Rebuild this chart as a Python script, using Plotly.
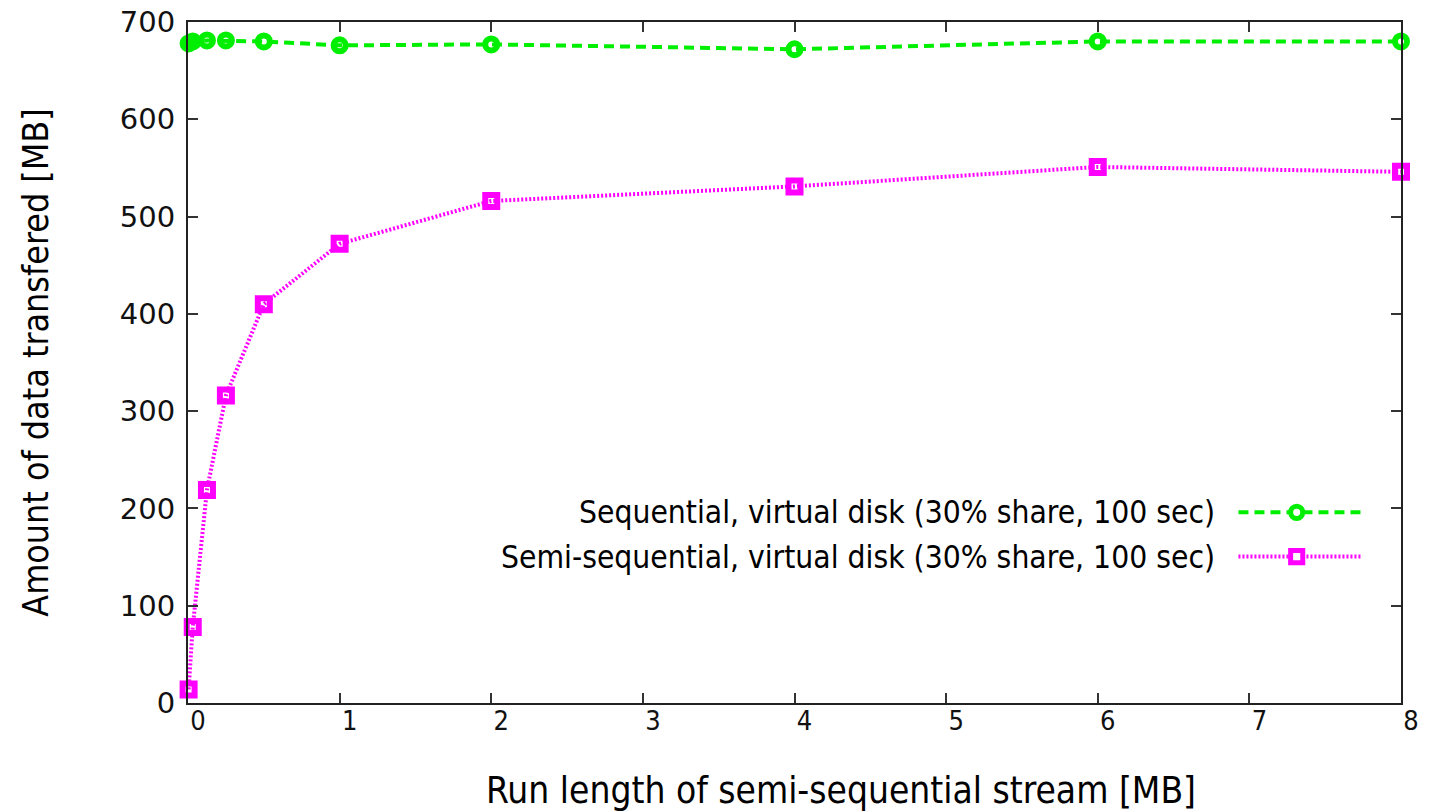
import plotly.graph_objects as go

# Data
run_length_mb = [0.004, 0.03125, 0.125, 0.25, 0.5, 1, 2, 4, 6, 8]
seq_mb = [678, 680, 681, 681, 680, 676, 677, 672, 680, 680]
semi_mb = [14, 78, 219, 316, 410, 472, 516, 531, 551, 546]

seq_name = "Sequential, virtual disk (30% share, 100 sec)"
semi_name = "Semi-sequential, virtual disk (30% share, 100 sec)"
x_tick_vals = [0, 1, 2, 3, 4, 5, 6, 7, 8]
y_tick_vals = [0, 100, 200, 300, 400, 500, 600, 700]

GREEN = "#00ee00"
MAGENTA = "#ff00ff"
TEXT_FONT = "DejaVu Sans Condensed, Lato, sans-serif"
TICK_FONT = "DejaVu Sans, sans-serif"

fig = go.Figure()
fig.add_trace(go.Scatter(
    x=run_length_mb, y=seq_mb, name=seq_name, mode="lines+markers",
    line=dict(color=GREEN, width=4, dash="10px,6px"),
    marker=dict(symbol="circle-open", size=12, color=GREEN, line=dict(width=6, color=GREEN)),
    cliponaxis=False, showlegend=False))
fig.add_trace(go.Scatter(
    x=run_length_mb, y=semi_mb, name=semi_name, mode="lines+markers",
    line=dict(color=MAGENTA, width=4, dash="2px,2px"),
    marker=dict(symbol="square-open", size=12, color=MAGENTA, line=dict(width=6, color=MAGENTA)),
    cliponaxis=False, showlegend=False))

axis_common = dict(
    showline=True, linecolor="#222222", linewidth=2, mirror="allticks",
    ticks="inside", ticklen=10, tickwidth=2, tickcolor="#333333",
    showgrid=False, zeroline=False, ticklabeloverflow="allow", automargin=False,
)
fig.update_xaxes(range=[0, 8], tickvals=x_tick_vals,
                 tickfont=dict(family=TEXT_FONT, size=27, color="#111111"),
                 ticklabelshift=10, ticklabelstandoff=-7, **axis_common)
fig.update_yaxes(range=[0, 700], tickvals=y_tick_vals,
                 tickfont=dict(family=TICK_FONT, size=29, color="#111111"),
                 ticklabelstandoff=5,
                 title=dict(text="Amount of data transfered [MB]",
                            font=dict(family=TEXT_FONT, size=35.5, color="#000000"),
                            standoff=60),
                 **axis_common)

# X axis title (positioned slightly right of centre, as in the reference)
fig.add_annotation(text="Run length of semi-sequential stream [MB]", xref="paper", yref="paper",
                   x=0.538, y=-0.128, xanchor="center", yanchor="middle", showarrow=False,
                   font=dict(family=TEXT_FONT, size=36.8, color="#000000"))

# Custom legend (text on the left, sample on the right, as in the gnuplot original)
legend_rows = [(seq_name, GREEN, "10px,6px", "circle", 0.280),
               (semi_name, MAGENTA, "2px,2px", "rect", 0.215)]
for text, color, dash, shp, yy in legend_rows:
    fig.add_annotation(text=text, xref="paper", yref="paper", x=0.848, y=yy,
                       xanchor="right", yanchor="middle", showarrow=False,
                       font=dict(family=TEXT_FONT, size=31.5, color="#000000"))
    fig.add_shape(type="line", xref="paper", yref="paper", x0=0.866, x1=0.968, y0=yy, y1=yy,
                  line=dict(color=color, width=4, dash=dash))
    hx, hy = 0.0050, 0.0090
    fig.add_shape(type=shp, xref="paper", yref="paper",
                  x0=0.914 - hx, x1=0.914 + hx, y0=yy - hy, y1=yy + hy,
                  line=dict(color=color, width=5), fillcolor="white")

fig.update_layout(
    width=1431, height=812,
    margin=dict(l=188, r=30, t=22, b=109, autoexpand=False),
    paper_bgcolor="white", plot_bgcolor="white",
)

# Remove the browser's default 8px body margin so the figure fills the window exactly
fig.write_html("out.html", config={"displayModeBar": False},
               post_script="document.body.style.margin='0px';document.body.style.overflow='hidden';")
